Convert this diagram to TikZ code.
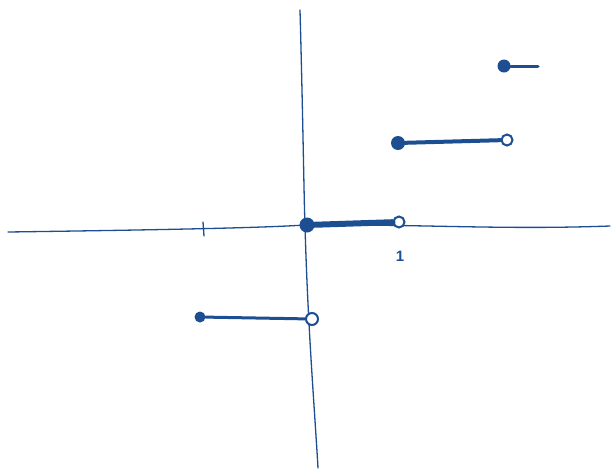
\documentclass[tikz,border=0pt]{standalone}
\usepackage{fontspec}
\setmainfont{Liberation Sans}
\definecolor{ink}{RGB}{28,78,145}
\begin{document}
\begin{tikzpicture}[x=1pt,y=-1pt,
  axis/.style={draw=ink,line width=1.3pt,line cap=round},
  seg/.style={draw=ink,line width=3pt,line cap=round},
  fdot/.style={circle,fill=ink,inner sep=0pt,minimum size=12pt},
  odot/.style={circle,draw=ink,line width=2pt,fill=white,inner sep=0pt,minimum size=11pt},
  lbl/.style={text=ink,font=\bfseries\fontsize{15}{15}\selectfont}]
\useasboundingbox (0,0) rectangle (613,472);
% axes
\coordinate (xl) at (8,232);
\coordinate (xr) at (610,226);
\coordinate (yt) at (300,10);
\coordinate (yb) at (318,468);
\draw[axis] (xl) .. controls (150,230) and (260,228) .. (305,225)
  .. controls (420,224) and (500,230) .. (xr);
\draw[axis] (yt) .. controls (303,120) and (304,200) .. (305,226)
  .. controls (308,330) and (314,400) .. (yb);
% tick at -1
\coordinate (t1) at (203,222);
\coordinate (t2) at (204,236);
\draw[axis] (t1) -- (t2);
% segment [-1,0)
\node[fdot,minimum size=11pt] (a1) at (200,317) {};
\node[odot,minimum size=12pt] (a2) at (312,319) {};
\draw[seg] (a1) -- (a2);
% segment [0,1)
\node[fdot,minimum size=15pt] (b1) at (307,225) {};
\node[odot] (b2) at (399,222) {};
\draw[draw=ink,line width=6pt,line cap=round] (b1) -- (b2);
% segment [1,2)
\node[fdot,minimum size=14pt] (c1) at (398,143) {};
\node[odot,minimum size=11pt] (c2) at (507,140) {};
\draw[draw=ink,line width=4pt,line cap=round] (c1) -- (c2);
% segment [2,...)
\node[fdot,minimum size=13pt] (d1) at (504,66) {};
\coordinate (d2) at (538,66);
\draw[seg] (d1) -- (d2);
% label
\node[lbl] (one) at (400,256) {1};
\end{tikzpicture}
\end{document}
